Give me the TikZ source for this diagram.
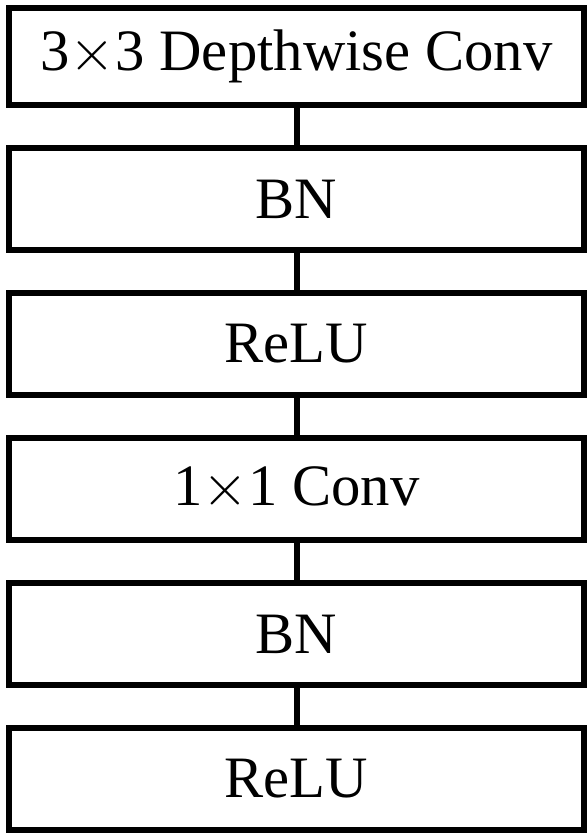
\RequirePackage{fix-cm}
\documentclass[tikz,border=0pt]{standalone}
\usepackage{fontspec}
\setmainfont{Liberation Serif}
\newcommand{\tmsx}{${\times}$}
\begin{document}
\begin{tikzpicture}[x=0.75pt,y=-0.75pt,
  layer/.style={draw=black,line width=4.5pt,rectangle,minimum width=431.25pt,minimum height=76.5pt,inner sep=0pt,font=\fontsize{44pt}{53pt}\selectfont},
  link/.style={draw=black,line width=4.5pt}]
\useasboundingbox (0,0) rectangle (588,833);
\node[layer,minimum height=72.75pt] (b1) at (296.5,56.5) {3{\tmsx}3 Depthwise Conv};
\node[layer] (b2) at (296.5,199) {BN};
\node[layer] (b3) at (296.5,344) {ReLU};
\node[layer] (b4) at (296.5,489) {1{\tmsx}1 Conv};
\node[layer] (b5) at (296.5,634) {BN};
\node[layer] (b6) at (296.5,779) {ReLU};
\draw[link] (b1.south) -- (b2.north);
\draw[link] (b2.south) -- (b3.north);
\draw[link] (b3.south) -- (b4.north);
\draw[link] (b4.south) -- (b5.north);
\draw[link] (b5.south) -- (b6.north);
\end{tikzpicture}
\end{document}
